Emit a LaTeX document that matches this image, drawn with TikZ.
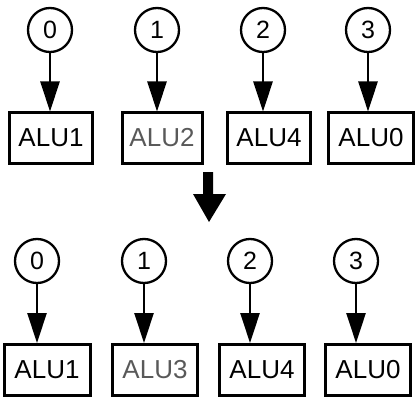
\documentclass[tikz,border=0pt]{standalone}
\usepackage{fontspec}
\setmainfont{Liberation Sans}
\usetikzlibrary{arrows.meta}
\begin{document}
\begin{tikzpicture}[x=1pt,y=-1pt,
  slot/.style={draw,circle,line width=2.3pt,minimum size=44pt,inner sep=0pt,
    font=\fontsize{25}{29}\selectfont},
  alu/.style={draw,rectangle,line width=3pt,inner sep=0pt,
    font=\fontsize{26}{31}\selectfont},
  faint/.style={text=black!65},
  feed/.style={line width=2.8pt,-{Triangle[length=30pt,width=19pt]}}]
\useasboundingbox (0,0) rectangle (419,398);

% upper assignment
\node[slot] (a0) at (50,30) {0};
\node[slot] (a1) at (157,30) {1};
\node[slot] (a2) at (263,30) {2};
\node[slot] (a3) at (368,30) {3};
\node[alu,minimum width=83pt,minimum height=50pt] (p0) at (51,138) {ALU1};
\node[alu,faint,minimum width=80pt,minimum height=50pt] (p1) at (162,138) {ALU2};
\node[alu,minimum width=83pt,minimum height=50pt] (p2) at (269,138) {ALU4};
\node[alu,minimum width=85pt,minimum height=50pt] (p3) at (371,138) {ALU0};
\foreach \i in {0,1,2,3}
  \draw[feed] (a\i) -- (a\i |- p\i.north);

% transition arrow
\fill (203,172) -- (213,172) -- (213,194) -- (226,194) -- (209,222)
  -- (193,194) -- (203,194) -- cycle;

% lower assignment
\node[slot] (b0) at (37,261) {0};
\node[slot] (b1) at (144,261) {1};
\node[slot] (b2) at (250,261) {2};
\node[slot] (b3) at (356,261) {3};
\node[alu,minimum width=86pt,minimum height=51pt] (q0) at (47,370) {ALU1};
\node[alu,faint,minimum width=85pt,minimum height=51pt] (q1) at (155,370) {ALU3};
\node[alu,minimum width=85pt,minimum height=51pt] (q2) at (262,370) {ALU4};
\node[alu,minimum width=85pt,minimum height=51pt] (q3) at (368,370) {ALU0};
\foreach \i in {0,1,2,3}
  \draw[feed] (b\i) -- (b\i |- q\i.north);
\end{tikzpicture}
\end{document}
